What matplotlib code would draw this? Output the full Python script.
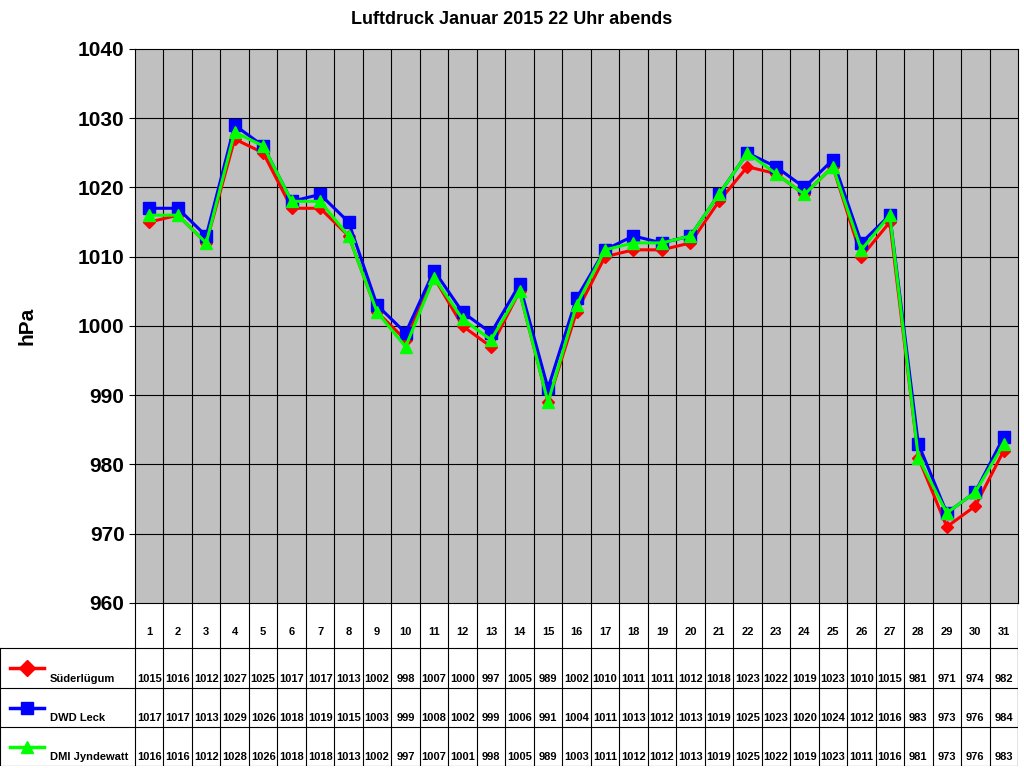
import matplotlib
matplotlib.use("Agg")
import matplotlib.pyplot as plt
import numpy as np

days = list(range(1, 32))
suederluegum = [1015,1016,1012,1027,1025,1017,1017,1013,1002,998,1007,1000,997,1005,989,1002,1010,1011,1011,1012,1018,1023,1022,1019,1023,1010,1015,981,971,974,982]
dwd_leck = [1017,1017,1013,1029,1026,1018,1019,1015,1003,999,1008,1002,999,1006,991,1004,1011,1013,1012,1013,1019,1025,1023,1020,1024,1012,1016,983,973,976,984]
dmi_jyndewatt = [1016,1016,1012,1028,1026,1018,1018,1013,1002,997,1007,1001,998,1005,989,1003,1011,1012,1012,1013,1019,1025,1022,1019,1023,1011,1016,981,973,976,983]
names = ["Süderlügum", "DWD Leck", "DMI Jyndewatt"]
series = [suederluegum, dwd_leck, dmi_jyndewatt]
colors = ["#FF0000", "#0000FF", "#00FF00"]
markers = ["D", "s", "^"]
msizes = [6, 8, 8]

plt.rcParams['font.family'] = ['Liberation Sans', 'DejaVu Sans']
W, H = 1024, 768
fig = plt.figure(figsize=(W/100, H/100), dpi=100)
L, R, T, B = 135, 1018, 49, 603
ax = fig.add_axes([L/W, (H-B)/H, (R-L)/W, (B-T)/H])
ax.set_facecolor("#C0C0C0")
ax.set_xlim(0.5, 31.5)
ax.set_ylim(960, 1040)
ax.set_yticks(range(960, 1041, 10))
ax.tick_params(axis='y', labelsize=15, length=4)
for lab in ax.get_yticklabels():
    lab.set_fontweight('bold')
ax.set_xticks([])
for d in days[:-1]:
    ax.axvline(d + 0.5, color='black', lw=0.8, zorder=1)
for y in range(970, 1040, 10):
    ax.axhline(y, color='black', lw=0.8, zorder=1)
for s, c, m, ms in zip(series, colors, markers, msizes):
    ax.plot(days, s, color=c, lw=2.2, marker=m, markersize=ms, zorder=3)
ax.set_ylabel("hPa", fontsize=15, fontweight='bold', labelpad=30)
fig.text(0.5, 1 - 20/H, "Luftdruck Januar 2015 22 Uhr abends", ha='center', va='center', fontsize=13, fontweight='bold')

# table
tb = fig.add_axes([0, (H-766)/H, R/W, (766-B)/H])
tb.set_xlim(0, R)
tb.set_ylim(766, B)
tb.axis('off')
dx = (R - L) / 31
rows = [603, 648, 688, 727, 766]
for i in range(32):
    x = L + i * dx
    tb.plot([x, x], [B, 766], color='black', lw=0.8)
tb.plot([0, 0], [648, 766], color='black', lw=0.8)
tb.plot([R, R], [B, 766], color='black', lw=0.8)
for y in rows[1:]:
    tb.plot([0, R], [y, y], color='black', lw=0.8)
for i, d in enumerate(days):
    tb.text(L + (i + 0.5) * dx, 632, str(d), ha='center', va='center', fontsize=8, fontweight='bold')
for r, (nm, s, c, m) in enumerate(zip(names, series, colors, markers)):
    ytxt = rows[r + 2] - 9
    ymk = rows[r + 1] + 20
    tb.plot([10, 44], [ymk, ymk], color=c, lw=2.5)
    tb.plot([27], [ymk], color=c, marker=m, markersize=8)
    tb.text(50, ytxt, nm, ha='left', va='center', fontsize=8, fontweight='bold')
    for i, v in enumerate(s):
        tb.text(L + (i + 0.5) * dx, ytxt, str(round(v)), ha='center', va='center', fontsize=8, fontweight='bold')

fig.savefig("out.png", dpi=100)
